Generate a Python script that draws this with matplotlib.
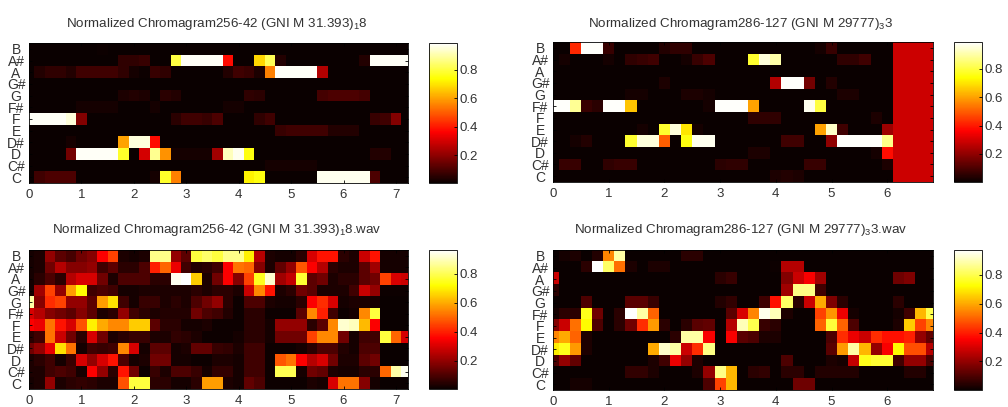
#!/usr/bin/env python3
import numpy as np
import matplotlib
matplotlib.use("Agg")
import matplotlib.pyplot as plt

plt.rcParams['font.family'] = ['Liberation Sans', 'DejaVu Sans']
plt.rcParams['mathtext.default'] = 'regular'

## Pitch classes, top row first
notes = ['B', 'A#', 'A', 'G#', 'G', 'F#', 'F', 'E', 'D#', 'D', 'C#', 'C']

## Titles
title_tl = r'Normalized Chromagram256-42 (GNI M 31.393)$_{1}$8'
title_tr = r'Normalized Chromagram286-127 (GNI M 29777)$_{3}$3'
title_bl = r'Normalized Chromagram256-42 (GNI M 31.393)$_{1}$8.wav'
title_br = r'Normalized Chromagram286-127 (GNI M 29777)$_{3}$3.wav'

## Top left panel, column index -> value (37 frames, rest is near zero)
tl_B = {7: .01}
tl_As = {9: .06, 10: .06, 11: .07, 14: .8, 15: .98, 16: .98, 17: .98, 18: .98, 19: .38, 22: .68, 23: .82, 24: .04,
         32: .04, 33: .98, 34: .98, 35: .98, 36: .98}
tl_A = {1: .04, 2: .06, 3: .06, 4: .04, 5: .08, 6: .08, 7: .08, 8: .08, 9: .06, 10: .02, 11: .01, 12: .07, 13: .06,
        19: .04, 20: .08, 21: .07, 22: .03, 23: .55, 24: .98, 25: .98, 26: .98, 27: .98, 28: .25}
tl_Gs = {}
tl_G = {9: .03, 10: .04, 11: .03, 13: .05, 14: .04, 21: .06, 22: .05, 28: .09, 29: .1, 30: .1, 31: .1, 32: .09}
tl_Fs = {5: .02, 6: .02, 7: .02, 8: .02, 12: .02, 19: .02, 20: .02}
tl_F = {0: .98, 1: .98, 2: .98, 3: .98, 4: .95, 5: .18, 14: .05, 15: .08, 16: .08, 17: .07, 18: .1, 22: .06, 23: .08,
        33: .07, 34: .08, 35: .18}
tl_E = {24: .07, 25: .08, 26: .08, 27: .08, 28: .08, 29: .04, 30: .04, 31: .04}
tl_Ds = {4: .02, 9: .6, 10: .95, 11: .95, 12: .38}
tl_D = {4: .16, 5: .98, 6: .98, 7: .98, 8: .98, 9: .78, 11: .3, 12: .88, 13: .58, 14: .02, 15: .02, 16: .02,
        17: .02, 18: .23, 19: .92, 20: .97, 21: .75, 33: .04, 34: .04}
tl_Cs = {23: .02, 24: .02, 25: .02, 26: .02, 27: .02}
tl_C = {1: .08, 2: .1, 3: .1, 4: .1, 12: .02, 13: .78, 14: .55, 21: .72, 22: .75, 28: .97, 29: .97, 30: .97,
        31: .97, 32: .97, 33: .1}

## Top right panel (35 frames, last four columns are constant red)
tr_red = {31: .29, 32: .29, 33: .29, 34: .29}
tr_B = {2: .42, 3: .98, 4: .98, 5: .07, 10: .04, 11: .06, 12: .06, 24: .02, 25: .07}
tr_As = {1: .02, 5: .02, 7: .06, 8: .07, 9: .08, 12: .02, 13: .07, 14: .1, 18: .78, 19: .95, 20: .9, 26: .06,
         27: .06, 28: .08}
tr_A = {}
tr_Gs = {10: .03, 20: .25, 21: .98, 22: .98, 23: .16, 25: .04}
tr_G = {7: .02, 8: .02, 12: .03, 13: .03, 14: .02, 26: .03, 27: .03}
tr_Fs = {0: .98, 1: .98, 2: .88, 3: .07, 4: .05, 5: .98, 6: .98, 7: .65, 14: .02, 15: .98, 16: .98, 17: .98,
         18: .6, 23: .97, 24: .8}
tr_F = {18: .06, 19: .06, 20: .06, 29: .03}
tr_E = {8: .02, 10: .78, 11: .95, 12: .7, 13: .02, 24: .6, 25: .93, 26: .08, 30: .22}
tr_Ds = {2: .02, 3: .04, 7: .78, 8: .95, 9: .95, 10: .5, 12: .75, 13: .97, 14: .97, 21: .08, 22: .08, 25: .2,
         26: .98, 27: .98, 28: .98, 29: .98, 30: .87}
tr_D = {18: .03, 19: .03, 29: .02, 30: .38}
tr_Cs = {1: .07, 2: .07, 5: .06, 6: .07, 7: .07, 15: .05, 16: .06, 17: .06, 23: .07, 24: .07, 30: .03}
tr_C = {20: .03, 21: .04, 22: .03}

## Bottom left panel, every frame
bl_B = [.02, .03, .2, .12, .09, .15, .18, .35, .45, .03, .02, .03, .85, .85, .2, .12, .78, .82, .78, .85, .85, .7,
        .25, .03, .02, .02, .05, .3, .38, .38, .05, .03, .28, .38, .02, .02, .02]
bl_As = [.02, .03, .15, .25, .18, .18, .2, .08, .12, .05, .05, .1, .4, .5, .33, .08, .04, .05, .08, .35, .52, .5,
         .18, .03, .13, .2, .48, .35, .25, .05, .03, .03, .12, .22, .02, .02, .02]
bl_A = [.02, .05, .1, .05, .25, .3, .3, .15, .03, .1, .1, .1, .05, .05, .95, .98, .65, .03, .15, .35, .18, .45,
        .75, .92, .22, .27, .77, .12, .15, .03, .05, .05, .12, .15, .45, .3, .28]
bl_Gs = [.02, .22, .45, .2, .58, .72, .08, .1, .08, .02, .02, .03, .03, .03, .03, .03, .05, .03, .05, .05, .03, .28,
         .55, .38, .03, .05, .15, .12, .03, .03, .03, .08, .28, .2, .01, .01, .01]
bl_G = [.88, .18, .42, .45, .2, .2, .12, .58, .68, .08, .02, .07, .07, .03, .05, .03, .1, .15, .2, .05, .01, .1,
        .1, .03, .02, .02, .05, .35, .42, .3, .02, .03, .03, .02, 0, 0, 0]
bl_Fs = [.3, .25, .18, .15, .12, .18, .12, .03, .05, .2, .08, .05, .03, .04, .04, .04, .15, .1, .08, .04, .01, .05,
         .05, .01, .01, .01, .12, .55, .4, .08, .01, .02, .55, .78, 0, 0, 0]
bl_F = [.35, .33, .52, .38, .3, .47, .7, .6, .55, .55, .65, .65, .12, .05, .05, .02, .02, .03, .01, .01, .01, .05,
        .05, .02, .2, .2, .2, .05, .12, .55, .92, .9, .62, .35, 0, 0, 0]
bl_E = [.05, .08, .52, .28, .15, .05, .3, .15, .03, .05, .07, .07, .03, .03, .06, .05, .03, .01, .01, .01, .02, .05,
        .05, .02, .15, .15, .15, .45, .55, .55, .15, .02, .08, .08, .78, .5, .3]
bl_Ds = [.15, .2, .32, .68, .52, .02, .08, .07, .08, .55, .3, .02, .12, .12, .02, .03, .13, .13, .07, .06, .03, .08,
         .08, .01, .01, .01, .02, .05, .1, .1, .04, .02, .1, .1, 0, 0, 0]
bl_D = [.03, .05, .08, .02, .07, .3, .2, .3, .38, .1, .02, .03, .15, .15, .02, .02, .01, .01, .03, .03, .02, .08,
        .08, .01, .48, .52, .35, .25, .3, .15, .03, .03, .12, .15, 0, 0, 0]
bl_Cs = [.03, .03, .08, .1, .08, .02, .35, .2, .05, .38, .15, .01, .07, .03, .1, .1, .07, .02, .06, .06, .02, .08,
         .08, .01, .8, .8, .02, .15, .13, .03, .02, .02, .05, .05, .5, .88, .95]
bl_C = [.02, .03, .2, .03, .05, .06, .05, .03, .03, .47, .78, .78, .05, .05, .02, .02, .05, .58, .58, .03, .02, .13,
        .1, .01, .01, .01, .01, .03, .02, .3, .52, .52, .18, .02, 0, 0, 0]

## Bottom right panel (35 frames)
br_B = {1: .02, 2: .03, 4: .04, 5: .55, 6: .88, 12: .05, 13: .05}
br_As = {3: .05, 4: .97, 5: .82, 6: .52, 7: .03, 9: .03, 10: .03, 20: .01, 21: .25, 22: .25}
br_A = {0: .28, 15: .05, 16: .07, 21: .18, 22: .28, 23: .35, 24: .22, 31: .15, 32: .17}
br_Gs = {0: .05, 21: .22, 22: .85, 23: .85, 24: .08}
br_G = {3: .1, 7: .12, 8: .12, 9: .07, 15: .04, 16: .06, 19: .08, 20: .38, 21: .82, 22: .05, 23: .28, 24: .6,
        25: .17, 26: .05, 31: .05}
br_Fs = {0: .02, 1: .05, 2: .05, 3: .75, 4: .15, 6: .05, 7: .97, 8: .88, 9: .5, 16: .12, 17: .3, 18: .55, 19: .95,
         20: .9, 21: .03, 24: .45, 25: .57, 26: .33, 27: .02, 31: .02, 32: .08, 33: .62, 34: .8}
br_F = {0: .18, 1: .28, 2: .52, 3: .72, 4: .1, 6: .05, 7: .15, 8: .42, 9: .58, 10: .05, 12: .05, 13: .12, 14: .13,
        16: .25, 17: .9, 18: .8, 19: .07, 20: .05, 24: .5, 25: .78, 26: .5, 27: .1, 31: .03, 32: .65, 33: .45,
        34: .55}
br_E = {0: .55, 1: .6, 2: .5, 3: .03, 11: .05, 12: .88, 13: .88, 14: .35, 16: .35, 17: .12, 18: .1, 19: .03, 20: .03,
        25: .1, 26: .42, 27: .33, 28: .28, 29: .42, 30: .38, 31: .38, 32: .4, 33: .2, 34: .13}
br_Ds = {0: .7, 1: .75, 2: .58, 3: .03, 9: .6, 10: .92, 11: .88, 12: .28, 13: .42, 14: .85, 25: .12, 26: .58,
         27: .88, 28: .62, 29: .2, 30: .35, 31: .72, 32: .47, 33: .47, 34: .25}
br_D = {0: .1, 1: .2, 2: .13, 9: .03, 10: .08, 11: .33, 12: .2, 13: .03, 21: .1, 25: .03, 26: .02, 27: .27, 28: .75,
        29: .77, 30: .77, 31: .08, 32: .2, 33: .2, 34: .1}
br_Cs = {7: .06, 8: .06, 9: .03, 13: .03, 14: .2, 15: .85, 16: .62, 18: .05, 19: .06, 21: .05, 22: .05, 24: .04,
         25: .04, 26: .04, 27: .04, 32: .04, 33: .04}
br_C = {2: .02, 3: .02, 14: .1, 15: .45, 16: .62, 22: .15, 23: .15}


def to_matrix(rows, ncols, extra=None):
    m = np.zeros((len(rows), ncols))
    for r, row in enumerate(rows):
        if isinstance(row, dict):
            for c, v in row.items():
                m[r, c] = v
        else:
            m[r, :len(row)] = row
        if extra:
            for c, v in extra.items():
                m[r, c] = v
    return m


tl = to_matrix([tl_B, tl_As, tl_A, tl_Gs, tl_G, tl_Fs, tl_F, tl_E, tl_Ds, tl_D, tl_Cs, tl_C], 37)
tr = to_matrix([tr_B, tr_As, tr_A, tr_Gs, tr_G, tr_Fs, tr_F, tr_E, tr_Ds, tr_D, tr_Cs, tr_C], 35, tr_red)
bl = to_matrix([bl_B, bl_As, bl_A, bl_Gs, bl_G, bl_Fs, bl_F, bl_E, bl_Ds, bl_D, bl_Cs, bl_C], 37)
br = to_matrix([br_B, br_As, br_A, br_Gs, br_G, br_Fs, br_F, br_E, br_Ds, br_D, br_Cs, br_C], 35)

W, H = 1008.0, 407.0
fig = plt.figure(figsize=(W / 100, H / 100), dpi=100)
text_col = '#333333'


## A function to draw one panel, boxes given in pixels from top left
def panel(m, title, box, cbox, xmax, vmax, xticks, title_y):
    x0, y0, x1, y1 = box
    ax = fig.add_axes([x0 / W, 1 - y1 / H, (x1 - x0) / W, (y1 - y0) / H])
    n = m.shape[1]
    im = ax.imshow(m, cmap='hot', aspect='auto', interpolation='nearest', vmin=0.003, vmax=vmax,
                   extent=(-0.1, 0.2 * n - 0.1, 11.5, -0.5))
    ax.set_xlim(0, xmax)
    ax.set_ylim(11.5, -0.5)
    ax.set_xticks(xticks)
    ax.set_yticks(range(12))
    ax.set_yticklabels(notes, ha='center')
    ax.tick_params(axis='x', direction='in', length=2, width=0.6, color='black', labelsize=9.5,
                   labelcolor=text_col, pad=4.5, top=True)
    ax.tick_params(axis='y', direction='in', length=2, width=0.6, color='black', labelsize=10,
                   labelcolor=text_col, pad=9.3, right=True)
    for s in ax.spines.values():
        s.set_linewidth(0.6)
    fig.text((x0 + x1) / 2 / W - 0.002, 1 - title_y / H, title, ha='center', va='baseline', fontsize=9.6,
             color=text_col)

    cx0, cx1 = cbox
    cax = fig.add_axes([cx0 / W, 1 - y1 / H, (cx1 - cx0) / W, (y1 - y0) / H])
    cb = fig.colorbar(im, cax=cax, ticks=[0.2, 0.4, 0.6, 0.8])
    cb.ax.set_yticklabels(['0.2', '0.4', '0.6', '0.8'])
    cb.ax.tick_params(direction='in', length=2, width=0.6, color='black', labelsize=9.5,
                      labelcolor=text_col, pad=2)
    cb.outline.set_linewidth(0.6)


panel(tl, title_tl, (29, 43, 408, 183), (429, 457), 7.23, 0.988, range(8), 27)
panel(tr, title_tr, (553, 42, 933, 182), (954, 982), 6.82, 0.987, range(7), 27)
panel(bl, title_bl, (29, 250, 408, 389), (429, 457), 7.23, 0.966, range(8), 233)
panel(br, title_br, (553, 250, 933, 390), (954, 982), 6.82, 0.97, range(7), 233)

fig.savefig('out.png', dpi=100)
